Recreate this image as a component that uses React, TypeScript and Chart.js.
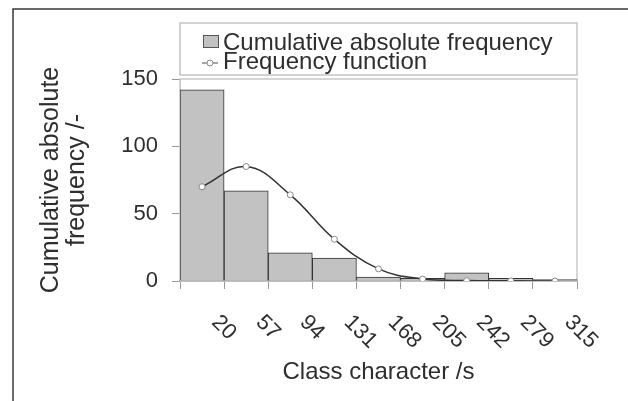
import { useEffect, useRef } from "react";
import { Chart, registerables } from "chart.js";

Chart.register(...registerables);

// ---- data ----
const categories = ["20", "57", "94", "131", "168", "205", "242", "279", "315"];
const barValues = [142, 67, 21, 17, 3, 2, 6, 2, 1];
const lineValues = [70, 85, 64, 31, 9, 1.5, 0.3, 0.1, 0];
const yTicks = [0, 50, 100, 150];
const barLabel = "Cumulative absolute frequency";
const lineLabel = "Frequency function";
const xTitle = "Class character /s";
const yTitle = ["Cumulative absolute", "frequency /-"];

const FONT = "'Liberation Sans', Arial, Helvetica, sans-serif";
const TEXT = "#2e2e2e";

const framePlugin = {
  id: "frame",
  beforeDraw(chart: any) {
    const ctx = chart.ctx;
    ctx.save();
    ctx.strokeStyle = "#3a3a3a";
    ctx.lineWidth = 1.5;
    ctx.beginPath();
    ctx.moveTo(628, 9);
    ctx.lineTo(13, 9);
    ctx.lineTo(13, 401);
    ctx.stroke();
    ctx.restore();
  },
};

const plotBoxPlugin = {
  id: "plotBox",
  beforeDatasetsDraw(chart: any) {
    const { ctx, chartArea } = chart;
    ctx.save();
    ctx.strokeStyle = "#c8c8c8";
    ctx.lineWidth = 1.5;
    ctx.strokeRect(
      chartArea.left,
      chartArea.top,
      chartArea.right - chartArea.left,
      chartArea.bottom - chartArea.top
    );
    ctx.restore();
  },
};

const boxLegendPlugin = {
  id: "boxLegend",
  afterDraw(chart: any) {
    const { ctx, chartArea } = chart;
    const ds = chart.data.datasets;
    ctx.save();
    ctx.strokeStyle = "#c4c4c4";
    ctx.lineWidth = 1.5;
    ctx.strokeRect(chartArea.left, 23, chartArea.right - chartArea.left, 52);
    // bar swatch
    ctx.fillStyle = ds[0].backgroundColor;
    ctx.fillRect(203, 35, 15, 12);
    ctx.strokeStyle = "#555";
    ctx.lineWidth = 1;
    ctx.strokeRect(203.5, 35.5, 15, 12);
    // line swatch
    ctx.strokeStyle = "#888";
    ctx.lineWidth = 1.5;
    ctx.beginPath();
    ctx.moveTo(202, 63);
    ctx.lineTo(218, 63);
    ctx.stroke();
    ctx.beginPath();
    ctx.arc(210, 63, 3, 0, Math.PI * 2);
    ctx.fillStyle = "#fff";
    ctx.fill();
    ctx.lineWidth = 1;
    ctx.stroke();
    // text
    ctx.fillStyle = TEXT;
    ctx.font = `24px ${FONT}`;
    ctx.textAlign = "left";
    ctx.textBaseline = "alphabetic";
    ctx.fillText(ds[0].label, 223, 50);
    ctx.fillText(ds[1].label, 223, 69);
    ctx.restore();
  },
};

const xLabelPlugin = {
  id: "xLabels",
  afterDraw(chart: any) {
    const xs = chart.scales.x;
    const ctx = chart.ctx;
    const half = (xs.getPixelForValue(1) - xs.getPixelForValue(0)) / 2;
    ctx.save();
    ctx.font = `22px ${FONT}`;
    ctx.fillStyle = TEXT;
    ctx.textAlign = "left";
    ctx.textBaseline = "middle";
    categories.forEach((lab, i) => {
      const tx = xs.getPixelForValue(i) + half;
      ctx.save();
      ctx.translate(tx - 9, xs.top + 38);
      ctx.rotate(Math.PI / 4);
      ctx.fillText(lab, 0, 0);
      ctx.restore();
    });
    ctx.restore();
  },
};

export default function App() {
  const ref = useRef<HTMLCanvasElement | null>(null);

  useEffect(() => {
    if (!ref.current) return;
    const chart = new Chart(ref.current, {
      type: "bar",
      data: {
        labels: categories,
        datasets: [
          {
            type: "bar",
            label: barLabel,
            data: barValues,
            backgroundColor: "#c2c2c2",
            borderColor: "#333",
            borderWidth: 1,
            barPercentage: 1,
            categoryPercentage: 1,
            order: 2,
          } as any,
          {
            type: "line",
            label: lineLabel,
            data: lineValues,
            borderColor: "#333",
            borderWidth: 1.5,
            tension: 0.4,
            pointRadius: 3,
            pointBackgroundColor: "#fff",
            pointBorderColor: "#888",
            pointBorderWidth: 1,
            order: 1,
          } as any,
        ],
      },
      options: {
        animation: false,
        responsive: true,
        maintainAspectRatio: false,
        layout: { padding: { top: 79, right: 51, left: 0, bottom: 0 } },
        plugins: {
          legend: { display: false },
          tooltip: { enabled: false },
        },
        scales: {
          x: {
            type: "category",
            offset: true,
            grid: {
              offset: true,
              drawOnChartArea: false,
              drawTicks: true,
              tickLength: 8,
              color: "#999",
            },
            border: { color: "#666", width: 1.5 },
            ticks: { display: false },
            title: {
              display: true,
              text: xTitle,
              color: TEXT,
              font: { family: FONT, size: 24 },
              padding: { top: 0, bottom: 14 },
            },
            afterFit: (s: any) => {
              s.height = 120;
            },
          },
          y: {
            min: 0,
            max: 150,
            afterBuildTicks: (s: any) => {
              s.ticks = yTicks.map((v) => ({ value: v }));
            },
            grid: {
              drawOnChartArea: false,
              drawTicks: true,
              tickLength: 8,
              color: "#999",
            },
            border: { color: "#c8c8c8" },
            ticks: {
              color: TEXT,
              font: { family: FONT, size: 22 },
              padding: 14,
            },
            title: {
              display: true,
              text: yTitle,
              color: TEXT,
              font: { family: FONT, size: 25, lineHeight: 26 / 25 },
              padding: { top: 38, bottom: 0 },
            },
            afterFit: (s: any) => {
              s.width = 180;
            },
          },
        },
      } as any,
      plugins: [framePlugin, plotBoxPlugin, boxLegendPlugin, xLabelPlugin],
    });
    return () => chart.destroy();
  }, []);

  return (
    <div style={{ position: "absolute", left: 0, top: 0, width: 628, height: 401 }}>
      <canvas ref={ref} />
    </div>
  );
}
